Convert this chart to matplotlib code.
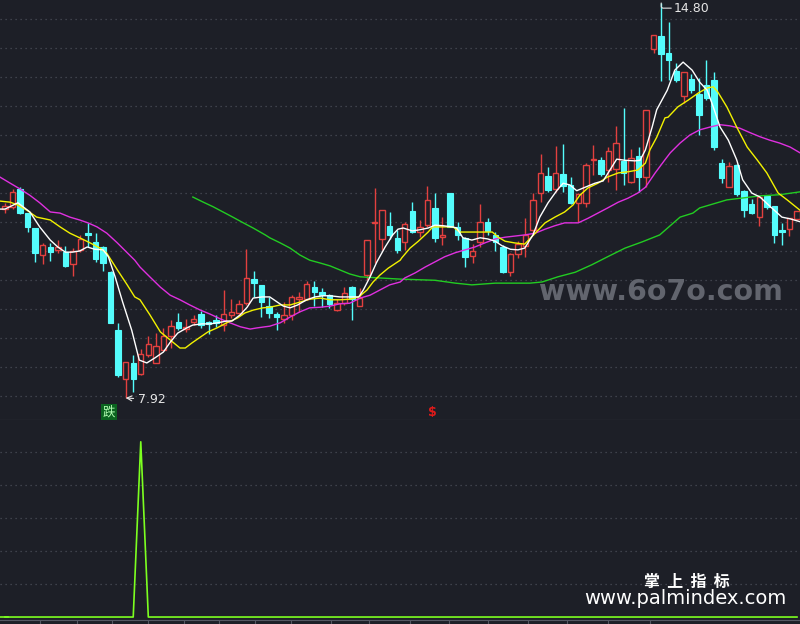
import numpy as np
import matplotlib.pyplot as plt

plt.rcParams['font.family'] = ['DejaVu Sans', 'Noto Sans CJK SC']

# K-line data, one candle per trading day (index 0..105)
opens = [11.22, 11.25, 11.56, 11.14, 10.88, 10.41, 10.55, 10.50, 10.46, 10.25,
         10.50, 10.79, 10.64, 10.55, 10.11, 9.10, 8.25, 8.53, 8.34, 8.67,
         8.53, 8.76, 9.00, 9.24, 9.12, 9.24, 9.38, 9.24, 9.28, 9.19,
         9.37, 9.40, 9.57, 9.99, 9.89, 9.52, 9.38, 9.30, 9.37, 9.64,
         9.64, 9.85, 9.77, 9.71, 9.45, 9.57, 9.85, 9.52, 10.06, 10.96,
         10.69, 10.92, 10.71, 10.64, 11.18, 10.81, 10.93, 11.23, 10.72, 11.49,
         10.90, 10.71, 10.39, 10.64, 10.99, 10.76, 10.55, 10.11, 10.43, 10.57,
         10.85, 11.49, 11.79, 11.56, 11.82, 11.63, 11.32, 11.32, 12.07, 12.07,
         11.89, 11.91, 12.05, 11.68, 12.14, 11.77, 14.00, 14.23, 13.93, 13.62,
         13.18, 13.48, 13.21, 13.37, 13.46, 12.01, 11.60, 11.98, 11.53, 11.30,
         11.07, 11.44, 11.26, 10.85, 10.86, 11.04]
highs = [11.32, 11.56, 11.59, 11.14, 10.88, 10.62, 10.62, 10.67, 10.57, 10.53,
         10.76, 10.97, 10.79, 10.57, 10.13, 9.22, 8.55, 8.67, 8.77, 9.00,
         9.05, 9.14, 9.28, 9.40, 9.30, 9.37, 9.43, 9.26, 9.37, 9.80,
         9.64, 9.63, 10.51, 10.13, 9.89, 9.68, 9.42, 9.59, 9.71, 9.77,
         9.96, 9.96, 9.84, 9.73, 9.64, 9.85, 9.87, 9.84, 10.67, 11.58,
         11.19, 11.16, 10.85, 10.99, 11.33, 11.02, 11.61, 11.49, 11.07, 11.49,
         10.99, 10.72, 10.60, 11.30, 11.05, 10.81, 10.58, 10.45, 10.65, 11.05,
         11.49, 12.17, 11.94, 12.31, 12.34, 11.77, 11.49, 12.01, 12.33, 12.12,
         12.29, 12.66, 12.97, 12.26, 12.29, 12.94, 14.24, 14.80, 14.47, 13.76,
         13.60, 13.56, 13.49, 13.81, 13.60, 12.08, 12.03, 12.00, 11.54, 11.39,
         11.46, 11.46, 11.26, 10.97, 11.05, 11.18]
lows = [11.14, 11.21, 11.12, 10.81, 10.29, 10.25, 10.30, 10.44, 10.20, 10.04,
        10.46, 10.55, 10.29, 10.13, 9.22, 8.28, 7.92, 8.02, 8.32, 8.63,
        8.53, 8.76, 8.79, 9.10, 9.07, 9.19, 9.14, 9.03, 9.16, 9.09,
        9.31, 9.38, 9.54, 9.68, 9.33, 9.31, 9.10, 9.22, 9.28, 9.42,
        9.63, 9.52, 9.50, 9.49, 9.43, 9.54, 9.28, 9.52, 9.97, 10.27,
        10.50, 10.69, 10.45, 10.50, 10.79, 10.72, 10.90, 10.64, 10.58, 10.90,
        10.67, 10.20, 10.27, 10.55, 10.76, 10.48, 10.10, 10.04, 10.36, 10.38,
        10.76, 11.33, 11.51, 11.51, 11.51, 11.30, 10.99, 11.25, 11.80, 11.79,
        11.68, 11.54, 11.63, 11.66, 11.51, 11.60, 13.93, 13.44, 13.46, 13.42,
        13.06, 13.23, 12.50, 13.11, 12.24, 11.66, 11.60, 11.44, 11.07, 11.12,
        10.92, 11.21, 10.62, 10.58, 10.74, 11.02]
closes = [11.27, 11.51, 11.14, 10.90, 10.44, 10.58, 10.46, 10.55, 10.22, 10.48,
          10.69, 10.76, 10.34, 10.27, 9.22, 8.32, 8.55, 8.25, 8.69, 8.86,
          8.83, 9.00, 9.17, 9.14, 9.16, 9.30, 9.19, 9.21, 9.22, 9.38,
          9.42, 9.56, 10.01, 9.92, 9.59, 9.40, 9.33, 9.37, 9.68, 9.68,
          9.90, 9.77, 9.71, 9.56, 9.57, 9.75, 9.64, 9.66, 10.67, 10.97,
          11.19, 10.76, 10.50, 10.95, 10.81, 10.90, 11.37, 10.71, 10.76, 10.90,
          10.76, 10.38, 10.48, 10.99, 10.83, 10.64, 10.11, 10.43, 10.60, 10.76,
          11.37, 11.84, 11.54, 11.84, 11.61, 11.32, 11.47, 11.98, 12.08, 11.82,
          12.22, 12.36, 11.84, 12.10, 11.77, 12.94, 14.24, 13.91, 13.81, 13.46,
          13.60, 13.28, 12.85, 13.15, 12.29, 11.75, 11.96, 11.47, 11.19, 11.14,
          11.42, 11.25, 10.76, 10.81, 11.05, 11.18]

# moving averages: (candle position, value)
ma5_pts = [(-0.7, 11.21), (0, 11.21), (1.1, 11.28), (1.7, 11.32), (3.3, 11.16), (4.6, 10.90),
           (6.0, 10.67), (7.0, 10.55), (8.0, 10.46), (8.9, 10.46), (9.9, 10.48), (10.9, 10.55),
           (11.9, 10.51), (13.0, 10.50), (13.7, 10.38), (14.6, 10.03), (15.6, 9.59), (16.8, 9.10),
           (17.8, 8.58), (18.8, 8.53), (19.9, 8.62), (21.0, 8.72), (21.9, 8.89), (22.9, 9.05),
           (24.1, 9.14), (24.9, 9.19), (26.1, 9.21), (27.2, 9.21), (28.2, 9.23), (29.4, 9.26),
           (30.1, 9.26), (31.2, 9.37), (32.1, 9.50), (32.9, 9.66), (34.1, 9.68), (35.1, 9.68),
           (36.1, 9.59), (36.9, 9.52), (37.8, 9.49), (38.8, 9.54), (40.0, 9.63), (41.1, 9.68),
           (42.2, 9.70), (43.1, 9.70), (44.4, 9.68), (45.7, 9.68), (46.9, 9.68), (47.5, 9.80),
           (48.4, 10.03), (49.3, 10.29), (50.4, 10.55), (51.4, 10.76), (52.1, 10.86), (52.8, 10.88),
           (54.0, 10.83), (55.0, 10.85), (56.1, 10.88), (57.0, 10.93), (58.1, 10.92), (59.3, 10.90),
           (59.9, 10.88), (60.7, 10.71), (61.9, 10.67), (63.0, 10.71), (64.0, 10.69), (65.0, 10.65),
           (65.9, 10.57), (67.0, 10.51), (68.0, 10.50), (68.9, 10.53), (70.0, 10.76), (70.9, 11.07),
           (72.0, 11.32), (73.2, 11.54), (74.0, 11.66), (74.9, 11.63), (75.8, 11.53), (76.9, 11.59),
           (78.2, 11.66), (79.3, 11.70), (80.2, 11.89), (81.1, 12.08), (82.2, 12.06), (83.5, 12.05),
           (84.2, 12.06), (84.9, 12.24), (85.8, 12.64), (86.4, 12.94), (87.1, 13.11), (87.8, 13.28),
           (88.8, 13.63), (89.9, 13.77), (91.1, 13.63), (92.1, 13.42), (93.1, 13.28), (93.9, 12.99),
           (94.8, 12.64), (95.9, 12.41), (97.0, 12.07), (97.8, 11.72), (99.0, 11.49), (100.1, 11.42),
           (101.4, 11.26), (103.0, 11.07), (104.1, 11.04), (105.4, 10.99)]
ma10_pts = [(-0.7, 11.35), (0.7, 11.33), (1.7, 11.28), (2.9, 11.19), (4.2, 11.07), (6.0, 11.02),
            (7.3, 10.90), (8.6, 10.79), (9.9, 10.71), (11.3, 10.62), (12.6, 10.53), (13.5, 10.44),
            (14.9, 10.15), (16.2, 9.89), (17.2, 9.68), (17.9, 9.63), (19.2, 9.37), (20.6, 9.07),
            (21.9, 8.93), (23.2, 8.79), (23.9, 8.79), (24.8, 8.88), (25.9, 8.98), (26.9, 9.07),
            (28.1, 9.14), (29.4, 9.23), (30.8, 9.31), (31.8, 9.40), (32.9, 9.45), (34.2, 9.49),
            (35.1, 9.50), (36.5, 9.54), (37.8, 9.54), (39.1, 9.59), (40.4, 9.64), (41.8, 9.66),
            (43.1, 9.63), (44.4, 9.63), (45.7, 9.64), (46.9, 9.68), (48.0, 9.80), (48.8, 9.94),
            (49.7, 10.06), (50.8, 10.18), (52.4, 10.32), (52.6, 10.36), (53.7, 10.53), (54.8, 10.65),
            (56.1, 10.81), (56.7, 10.90), (58.1, 10.90), (59.4, 10.90), (60.3, 10.81), (61.9, 10.81),
            (63.2, 10.81), (64.6, 10.81), (65.4, 10.72), (66.3, 10.65), (67.6, 10.62), (68.9, 10.60),
            (70.3, 10.79), (71.6, 10.97), (72.9, 11.07), (74.2, 11.16), (75.3, 11.28), (76.2, 11.45),
            (77.3, 11.58), (78.6, 11.66), (79.9, 11.77), (81.3, 11.84), (82.6, 11.86), (83.9, 11.89),
            (84.9, 12.01), (85.5, 12.24), (86.4, 12.46), (87.5, 12.80), (87.9, 12.81), (89.2, 12.99),
            (90.6, 13.11), (91.9, 13.23), (93.1, 13.32), (93.9, 13.34), (94.5, 13.25), (95.7, 12.99),
            (97.0, 12.64), (98.4, 12.29), (99.7, 12.07), (101.0, 11.84), (102.5, 11.49), (103.7, 11.37),
            (105.4, 11.19)]
ma20_pts = [(-0.7, 11.77), (0.7, 11.66), (2.0, 11.56), (3.3, 11.45), (4.6, 11.32), (6.0, 11.16),
            (7.3, 11.14), (8.6, 11.07), (9.9, 11.02), (11.0, 10.97), (12.2, 10.90), (13.5, 10.79),
            (14.9, 10.62), (16.2, 10.45), (17.2, 10.32), (17.9, 10.20), (19.2, 10.03), (20.6, 9.85),
            (21.9, 9.71), (23.2, 9.63), (24.5, 9.54), (25.9, 9.45), (27.2, 9.38), (28.5, 9.30),
            (29.8, 9.23), (31.2, 9.16), (32.5, 9.12), (33.4, 9.14), (34.5, 9.16), (35.1, 9.17),
            (36.5, 9.23), (37.8, 9.33), (39.1, 9.42), (40.4, 9.49), (41.8, 9.50), (43.1, 9.52),
            (44.4, 9.56), (45.7, 9.57), (47.1, 9.66), (48.4, 9.71), (49.7, 9.80), (51.0, 9.89),
            (52.4, 9.94), (53.0, 10.01), (54.4, 10.10), (55.7, 10.20), (57.0, 10.29), (58.3, 10.38),
            (59.7, 10.45), (61.0, 10.50), (62.3, 10.55), (63.6, 10.62), (65.0, 10.69), (66.3, 10.72),
            (67.6, 10.74), (68.9, 10.76), (70.3, 10.79), (71.6, 10.86), (72.9, 10.92), (74.2, 10.97),
            (76.0, 10.97), (77.3, 11.05), (78.6, 11.14), (79.9, 11.23), (81.3, 11.33), (82.6, 11.40),
            (83.9, 11.49), (84.9, 11.59), (86.2, 11.84), (87.5, 12.07), (88.2, 12.19), (89.5, 12.36),
            (90.8, 12.50), (92.1, 12.59), (93.5, 12.64), (94.8, 12.68), (96.1, 12.66), (97.4, 12.62),
            (98.8, 12.54), (100.1, 12.47), (101.4, 12.41), (102.7, 12.36), (104.1, 12.29), (105.4, 12.19)]
ma60_pts = [(24.9, 11.42), (26.3, 11.33), (27.6, 11.25), (28.9, 11.16), (30.2, 11.07), (31.6, 10.97),
            (32.9, 10.88), (34.5, 10.76), (35.1, 10.71), (36.5, 10.62), (37.8, 10.53), (39.1, 10.41),
            (40.4, 10.32), (41.8, 10.27), (43.1, 10.22), (44.4, 10.15), (45.7, 10.08), (47.1, 10.03),
            (49.7, 10.01), (52.4, 9.99), (57.0, 9.97), (59.7, 9.92), (61.9, 9.89), (65.0, 9.92),
            (69.6, 9.92), (71.2, 9.94), (73.3, 10.03), (75.6, 10.11), (77.8, 10.24), (79.9, 10.38),
            (82.2, 10.53), (84.5, 10.64), (86.8, 10.76), (89.5, 11.07), (91.2, 11.14), (92.1, 11.23),
            (95.7, 11.37), (100.1, 11.44), (102.7, 11.46), (105.4, 11.51)]

# lower indicator panel
signal = [0.0] * 106
signal[18] = 5.31

low_label = "7.92"
high_label = "14.80"

bg = '#1d1f27'
red = '#e2403f'
cyan = '#54fcfc'
grid_c = '#4a4d58'

fig = plt.figure(figsize=(8, 6.24), dpi=100, facecolor=bg)
ax = fig.add_axes([0, 204 / 624, 1, 420 / 624], facecolor=bg)
ax2 = fig.add_axes([0, 4 / 624, 1, 200 / 624], facecolor=bg)

n = len(closes)
x = np.arange(n)
o = np.array(opens); c = np.array(closes)
h = np.array(highs); l = np.array(lows)
up = c >= o

# grid
for lev in np.arange(14.516, 7.9, -0.5052):
    ax.axhline(lev, color=grid_c, lw=0.9, ls=(0, (1, 3)), zorder=0)
for lev in range(1, 6):
    ax2.axhline(lev, color=grid_c, lw=0.9, ls=(0, (1, 3)), zorder=0)

# candles
colors = np.where(up, red, cyan)
ax.vlines(x, l, h, colors=colors, lw=1, zorder=2)
body = np.where(np.abs(c - o) < 0.02, 0.02, c - o)
ax.bar(x[up], body[up], bottom=o[up], width=0.72, facecolor=bg, edgecolor=red, lw=1, zorder=2.5)
ax.bar(x[~up], body[~up], bottom=o[~up], width=0.72, facecolor=cyan, edgecolor=cyan, lw=0.8, zorder=2.5)

# moving averages
for pts, col in [(ma60_pts, '#22cc22'), (ma20_pts, '#e030e0'), (ma10_pts, '#f2f200'), (ma5_pts, '#ffffff')]:
    px, py = zip(*pts)
    ax.plot(px, py, color=col, lw=1, zorder=3)

# high / low labels
ax.annotate(high_label, xy=(87, 14.80), xytext=(88.7, 14.71), color='#e6e6e6', fontsize=9,
            va='center', ha='left',
            arrowprops=dict(arrowstyle='-', color='#e6e6e6', lw=0.8, shrinkA=0, shrinkB=0,
                            connectionstyle='angle,angleA=0,angleB=90,rad=2'))
ax.annotate(low_label, xy=(16, 7.92), xytext=(17.6, 7.89), color='#e6e6e6', fontsize=9,
            va='center', ha='left',
            arrowprops=dict(arrowstyle='->', color='#e6e6e6', lw=0.8, shrinkA=1, shrinkB=0))

# signal markers
ax.text(13.8, 7.67, '跌', ha='center', va='center', color='#b4ffb4', fontsize=9,
        family=['Noto Sans CJK SC', 'DejaVu Sans'],
        bbox=dict(facecolor='#0b6420', edgecolor='none', pad=1.2), zorder=5)
ax.text(56.7, 7.66, '$', ha='center', va='center', color='#e01a1a', fontsize=9,
        fontweight='bold', zorder=5)

# watermark
ax.text(87.0, 9.77, 'www.6o7o.com', ha='center', va='center', color='#62656e',
        fontsize=20.5, fontweight='bold', zorder=1)

ax.set_xlim(-0.663, 105.4)
ax.set_ylim(7.536, 14.852)
ax.set_xticks([]); ax.set_yticks([])
for s in ['top', 'left', 'right']:
    ax.spines[s].set_visible(False)
ax.spines['bottom'].set_color('#555863')

ax2.plot(x, signal, color='#7cff20', lw=1.2)
ax2.axhline(0, xmax=0.01, color='#7cff20', lw=1.2)
ax2.set_xlim(-0.663, 105.4)
ax2.set_ylim(-0.09, 5.97)
ax2.set_yticks([])
ax2.set_xticks([4.6, 9.5, 14.2, 19.0, 23.7, 28.4, 33.1, 37.9, 43.2, 48.3, 53.7, 58.9, 64.0, 69.3, 74.5, 80.0, 85.5])
ax2.tick_params(axis='x', direction='out', length=3, color='#555863', labelbottom=False)
for s in ['top', 'left', 'right']:
    ax2.spines[s].set_visible(False)
ax2.spines['bottom'].set_color('#555863')

fig.text(687 / 800, 1 - 582 / 624, '掌  上  指  标', ha='center', va='center', color='white',
         fontsize=11.5, fontweight='bold', family=['Noto Sans CJK SC', 'DejaVu Sans'])
fig.text(685 / 800, 1 - 599 / 624, 'www.palmindex.com', ha='center', va='center',
         color='white', fontsize=14)

fig.savefig('out.png', dpi=100, facecolor=bg)
